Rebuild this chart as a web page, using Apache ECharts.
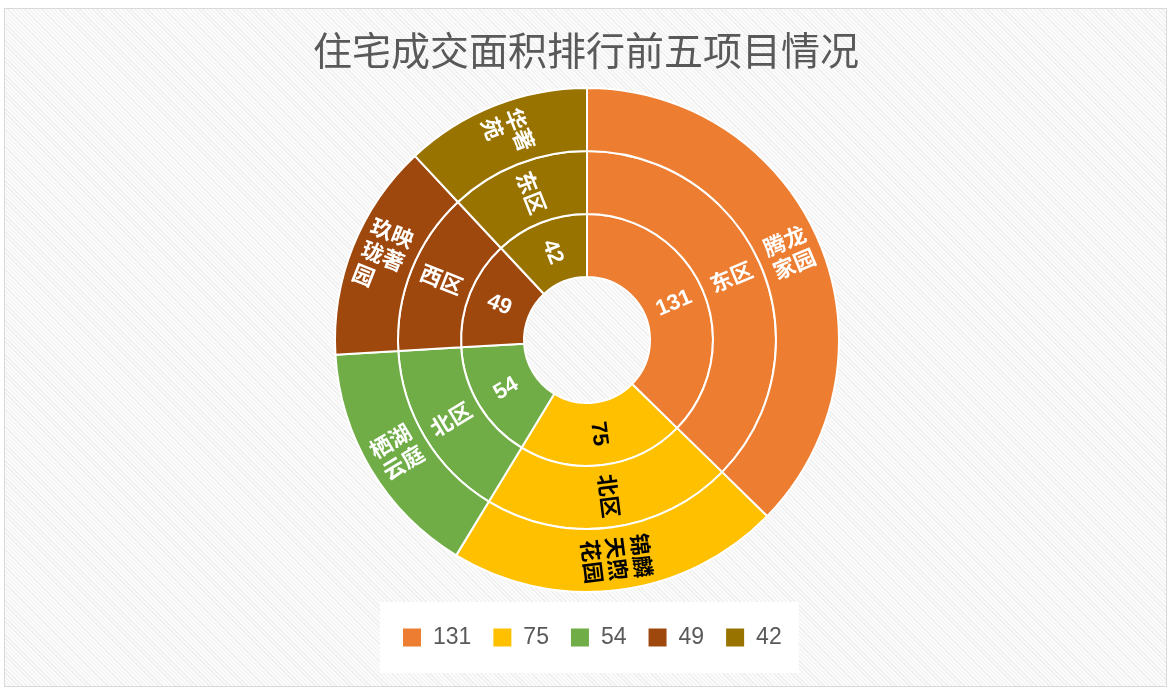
<!DOCTYPE html>
<html><head><meta charset="utf-8">
<script src="https://cdn.jsdelivr.net/npm/echarts@6/dist/echarts.min.js"></script>
<style>
html,body{margin:0;padding:0;width:1172px;height:692px;background:#fff;overflow:hidden}
#frame{position:absolute;left:4px;top:8px;width:1163px;height:679px;border:1px solid #d9d9d9;box-sizing:border-box;
background:repeating-linear-gradient(45deg,#efefef 0px,#efefef 1px,#fbfbfb 1px,#fbfbfb 3px)}
#main{position:absolute;left:0;top:0;width:1172px;height:692px}
</style></head><body><div id="frame"></div><div id="main"></div>
<script>
const titleText = '住宅成交面积排行前五项目情况';
const values = [131, 75, 54, 49, 42];
const districts = ['东区', '北区', '北区', '西区', '东区'];
const projects = ['腾龙家园', '锦麟天煦花园', '栖湖云庭', '玖映珑著园', '华著苑'];
const colors = ['#ED7D31', '#FFC000', '#70AD47', '#9E480E', '#997300'];
const labelColors = ['#ffffff', '#000000', '#ffffff', '#ffffff', '#ffffff'];

function wrap2(s) {
  const parts = [];
  for (let i = 0; i < s.length; i += 2) parts.push(s.slice(i, i + 2));
  if (parts[parts.length - 1].length === 1) parts[parts.length - 1] += '\u3000';
  return parts.join('\n');
}

const sunData = values.map((v, i) => ({
  name: String(v),
  itemStyle: { color: colors[i] },
  label: { color: labelColors[i] },
  children: [{
    name: districts[i],
    itemStyle: { color: colors[i] },
    label: { color: labelColors[i] },
    children: [{
      name: projects[i],
      value: v,
      itemStyle: { color: colors[i] },
      label: { color: labelColors[i], formatter: wrap2(projects[i]) }
    }]
  }]
}));

const chart = echarts.init(document.getElementById('main'), null, { renderer: 'canvas' });
chart.setOption({
  animation: false,
  title: {
    text: titleText,
    left: 'center',
    top: 26,
    textStyle: { fontSize: 39, color: '#595959', fontWeight: 'normal', fontFamily: '"Noto Sans CJK SC", sans-serif' }
  },
  legend: {
    left: 380,
    top: 602,
    orient: 'horizontal',
    data: values.map(String),
    backgroundColor: '#ffffff',
    padding: [24, 17, 24, 23],
    itemWidth: 18,
    itemHeight: 18,
    itemGap: 22,
    icon: 'rect',
    selectedMode: false,
    textStyle: { fontSize: 23, color: '#595959', fontFamily: '"Liberation Sans", Arial, sans-serif', padding: [0, 0, 0, 7] }
  },
  series: [
    {
      type: 'sunburst',
      center: [587, 340],
      radius: [63, 252],
      startAngle: 90,
      clockwise: true,
      sort: null,
      nodeClick: false,
      emphasis: { focus: 'none' },
      itemStyle: { borderColor: '#ffffff', borderWidth: 2 },
      label: {
        rotate: 'radial',
        fontSize: 22,
        fontWeight: 'bold',
        lineHeight: 25,
        fontFamily: '"Liberation Sans", "Noto Sans CJK SC", sans-serif'
      },
      levels: [
        {},
        { r0: 63, r: 126 },
        { r0: 126, r: 189 },
        { r0: 189, r: 252 }
      ],
      data: sunData
    },
    {
      type: 'pie',
      radius: [0, 0],
      center: [587, 340],
      silent: true,
      label: { show: false },
      labelLine: { show: false },
      data: values.map((v, i) => ({ name: String(v), value: v, itemStyle: { color: colors[i] } }))
    }
  ]
});
</script></body></html>
